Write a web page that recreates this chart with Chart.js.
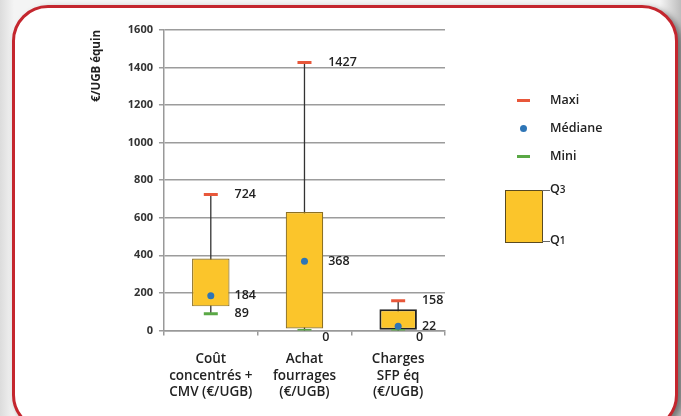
<!DOCTYPE html>
<html lang="fr">
<head>
<meta charset="utf-8">
<script src="https://cdn.jsdelivr.net/npm/chart.js@4/dist/chart.umd.min.js"></script>
<style>
  html, body { margin: 0; padding: 0; }
  body {
    width: 681px; height: 416px; overflow: hidden; position: relative;
    background: linear-gradient(90deg, #dcdcdc 0px, #f4f4f4 14px, #f4f4f4 660px, #bdbdbd 681px);
    font-family: "Open Sans", "DejaVu Sans", sans-serif;
  }
  #carte {
    position: absolute; left: 12px; top: 5px; width: 660px; height: 420px;
    border: 3px solid #c4262e; border-radius: 36px; background: #fff;
    box-shadow: 4px 3px 6px rgba(0,0,0,0.45);
  }
  #zone { position: absolute; left: 0; top: 0; width: 681px; height: 416px; }
  .leg { position: absolute; font-size: 12.5px; font-weight: 600; color: #222; line-height: 14px; }
  .trait { position: absolute; width: 13px; height: 3px; }
  .point { position: absolute; width: 7px; height: 7px; border-radius: 50%; background: #2e75b6; }
  #boite { position: absolute; left: 505px; top: 190px; width: 36px; height: 51px; background: #fbc52b; border: 1px solid #5a4a20; }
  .fil { position: absolute; height: 1px; width: 8px; background: #666; }
</style>
</head>
<body>
<div id="carte"></div>
<div id="zone"><canvas id="graphique" width="681" height="416"></canvas></div>

<div class="trait" style="left:517px;top:99px;background:#e8573a"></div>
<div class="leg" style="left:550px;top:93px">Maxi</div>
<div class="point" style="left:520px;top:125px"></div>
<div class="leg" style="left:550px;top:121px">Médiane</div>
<div class="trait" style="left:517px;top:155px;background:#5aa845"></div>
<div class="leg" style="left:550px;top:149px">Mini</div>
<div id="boite"></div>
<div class="fil" style="left:542px;top:190px"></div>
<div class="fil" style="left:542px;top:241px"></div>
<div class="leg" style="left:550px;top:182px">Q<span style="font-size:10px">3</span></div>
<div class="leg" style="left:550px;top:233px">Q<span style="font-size:10px">1</span></div>

<script>
// =========================
// DONNÉES
// =========================
const categories = [
  ["Coût", "concentrés +", "CMV (€/UGB)"],
  ["Achat", "fourrages", "(€/UGB)"],
  ["Charges", "SFP éq", "(€/UGB)"]
];
const q1 = [128, 10, 0];
const q3 = [383, 630, 112];
const maxi = [724, 1427, 158];
const mediane = [184, 368, 22];
const mini = [89, 0, 0];
const yTicks = [0, 200, 400, 600, 800, 1000, 1200, 1400, 1600];

// =========================
// PLUGINS
// =========================
const moustaches = {
  id: "moustaches",
  beforeDatasetsDraw(chart) {
    const { ctx, scales: { x, y } } = chart;
    ctx.save();
    ctx.strokeStyle = "#333";
    ctx.lineWidth = 1.3;
    categories.forEach((c, i) => {
      const px = x.getPixelForValue(i);
      ctx.beginPath();
      ctx.moveTo(px, y.getPixelForValue(mini[i]));
      ctx.lineTo(px, y.getPixelForValue(maxi[i]));
      ctx.stroke();
    });
    ctx.restore();
  }
};

const etiquettes = {
  id: "etiquettes",
  afterDatasetsDraw(chart) {
    const { ctx, scales: { x, y } } = chart;
    const bars = chart.getDatasetMeta(0).data;
    ctx.save();
    ctx.font = "600 12.5px 'Open Sans', sans-serif";
    ctx.fillStyle = "#222";
    ctx.textAlign = "left";
    ctx.textBaseline = "middle";
    categories.forEach((c, i) => {
      const droite = bars[i].x + bars[i].width / 2 + 5;
      ctx.fillText(String(maxi[i]), droite, y.getPixelForValue(maxi[i]));
      ctx.fillText(String(mediane[i]), droite, y.getPixelForValue(mediane[i]));
      if (mini[i] === 0) {
        ctx.textBaseline = "top";
        ctx.fillText("0", droite - 6, y.getPixelForValue(0) + 1);
        ctx.textBaseline = "middle";
      } else {
        ctx.fillText(String(mini[i]), droite, y.getPixelForValue(mini[i]));
      }
    });
    ctx.restore();
  }
};

// =========================
// GRAPHIQUE
// =========================
const ctx = document.getElementById("graphique").getContext("2d");
new Chart(ctx, {
  data: {
    labels: categories,
    datasets: [
      {
        type: "bar",
        data: categories.map((c, i) => [q1[i], q3[i]]),
        backgroundColor: "#fbc52b",
        borderColor: ["#8c7024", "#8c7024", "#222"],
        borderWidth: [1.2, 1.2, 2],
        borderSkipped: false,
        barPercentage: 1,
        categoryPercentage: 0.4,
        order: 3
      },
      {
        type: "line",
        data: maxi,
        showLine: false,
        pointStyle: "line",
        pointRadius: 7,
        pointBorderWidth: 3,
        pointBorderColor: "#e8573a",
        order: 1
      },
      {
        type: "line",
        data: mini,
        showLine: false,
        pointStyle: "line",
        pointRadius: 7,
        pointBorderWidth: 3,
        pointBorderColor: "#5aa845",
        order: 2
      },
      {
        type: "line",
        data: mediane,
        showLine: false,
        pointStyle: "circle",
        pointRadius: 3.5,
        pointBorderWidth: 0,
        pointBackgroundColor: "#2e75b6",
        order: 0
      }
    ]
  },
  options: {
    responsive: false,
    animation: false,
    layout: { padding: { left: 90, right: 236, top: 30, bottom: 0 } },
    plugins: { legend: { display: false }, tooltip: { enabled: false } },
    scales: {
      x: {
        grid: { display: true, drawOnChartArea: false, offset: true, tickLength: 5, color: "#999", lineWidth: 1.5 },
        border: { color: "#999", width: 1.5 },
        ticks: {
          color: "#222", maxRotation: 0, padding: 15,
          font: { family: "'Open Sans', sans-serif", size: 13.5, weight: 600, lineHeight: 1.25 }
        }
      },
      y: {
        min: 0, max: 1600,
        afterBuildTicks: axis => { axis.ticks = yTicks.map(v => ({ value: v })); },
        grid: { color: "#9c9c9c", lineWidth: 1.5, tickLength: 5 },
        border: { color: "#999", width: 1.5 },
        ticks: {
          color: "#333", padding: 6,
          font: { family: "'Open Sans', sans-serif", size: 11, weight: 700 },
          callback: v => String(v)
        },
        title: {
          display: true, text: "€/UGB équin", align: "end", color: "#222",
          font: { family: "'Open Sans', sans-serif", size: 11.5, weight: 700 },
          padding: { top: 0, bottom: 18 }
        }
      }
    }
  },
  plugins: [moustaches, etiquettes]
});
</script>
</body>
</html>
